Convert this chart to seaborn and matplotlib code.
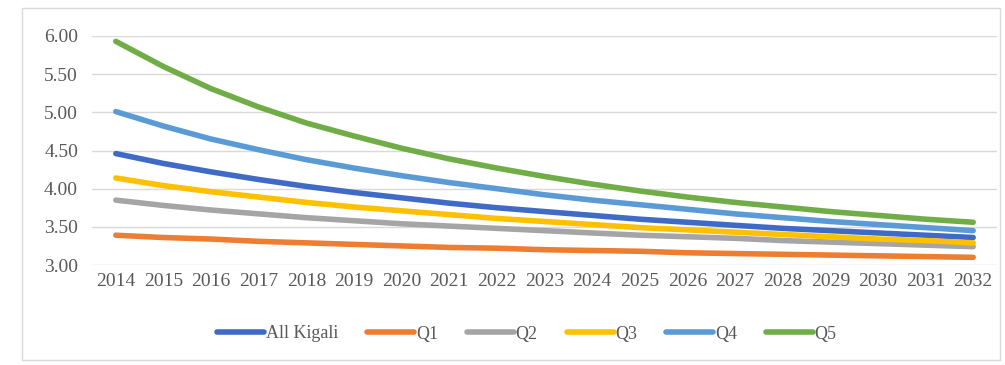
import matplotlib
matplotlib.use("Agg")
import matplotlib.pyplot as plt
from matplotlib.patches import Rectangle
import seaborn as sns
import pandas as pd

years = list(range(2014, 2033))
all_kigali = [4.46, 4.33, 4.22, 4.12, 4.03, 3.95, 3.88, 3.81, 3.75, 3.70, 3.65, 3.60, 3.56, 3.52, 3.48, 3.45, 3.42, 3.39, 3.36]
q1 = [3.39, 3.36, 3.34, 3.31, 3.29, 3.27, 3.25, 3.23, 3.22, 3.20, 3.19, 3.18, 3.16, 3.15, 3.14, 3.13, 3.12, 3.11, 3.10]
q2 = [3.85, 3.78, 3.72, 3.67, 3.62, 3.58, 3.54, 3.51, 3.48, 3.45, 3.42, 3.39, 3.37, 3.35, 3.32, 3.30, 3.28, 3.26, 3.24]
q3 = [4.14, 4.04, 3.96, 3.89, 3.82, 3.76, 3.71, 3.66, 3.61, 3.57, 3.53, 3.49, 3.46, 3.43, 3.40, 3.37, 3.34, 3.32, 3.29]
q4 = [5.01, 4.82, 4.65, 4.51, 4.38, 4.27, 4.17, 4.08, 4.00, 3.92, 3.85, 3.79, 3.73, 3.67, 3.62, 3.57, 3.53, 3.49, 3.45]
q5 = [5.93, 5.60, 5.31, 5.07, 4.86, 4.69, 4.53, 4.39, 4.27, 4.16, 4.06, 3.97, 3.89, 3.82, 3.76, 3.70, 3.65, 3.60, 3.56]
series_names = ["All Kigali", "Q1", "Q2", "Q3", "Q4", "Q5"]
colors = ["#3F6BC6", "#ED7D31", "#A5A5A5", "#FFC000", "#5B9BD5", "#70AD47"]
y_ticks = [3.0, 3.5, 4.0, 4.5, 5.0, 5.5, 6.0]

rows = []
for name, vals in zip(series_names, [all_kigali, q1, q2, q3, q4, q5]):
    for yr, v in zip(years, vals):
        rows.append({"Year": yr, "Value": v, "Series": name})
df = pd.DataFrame(rows)

sns.set_theme(style="white")
plt.rcParams["font.family"] = ["Liberation Serif", "DejaVu Serif"]

fig = plt.figure(figsize=(10.05, 3.65), dpi=100)
W, H = 1005, 365
ax = fig.add_axes([92 / W, 1 - 265 / H, (997 - 92) / W, (265 - 36) / H])

sns.lineplot(data=df, x="Year", y="Value", hue="Series", hue_order=series_names,
             palette=colors, linewidth=4, ax=ax, legend=True, solid_capstyle="round")

ax.set_xlim(2013.5, 2032.5)
ax.set_ylim(3.0, 6.0)
ax.set_yticks(y_ticks)
ax.set_yticklabels([f"{t:.2f}" for t in y_ticks])
ax.set_xticks(years)
ax.set_xticklabels([str(y) for y in years])
ax.grid(axis="y", color="#D9D9D9", linewidth=1)
ax.set_axisbelow(True)
for s in ax.spines.values():
    s.set_visible(False)
ax.set_xlabel("")
ax.set_ylabel("")
ax.tick_params(axis="both", labelsize=14, colors="#595959", length=0, pad=6)
ax.tick_params(axis="y", pad=10)

handles, labels = ax.get_legend_handles_labels()
ax.legend_.remove()
leg = fig.legend(handles, labels, loc="center", bbox_to_anchor=(527 / W, 1 - 334 / H),
                 ncol=6, frameon=False, fontsize=13, handlelength=2.6, handletextpad=0.1,
                 columnspacing=1.6, labelcolor="#595959")
for line in leg.get_lines():
    line.set_linewidth(4)

fig.patches.append(Rectangle((22 / W, 1 - 360 / H), (1000 - 22) / W, (360 - 8) / H,
                             transform=fig.transFigure, fill=False, edgecolor="#D9D9D9",
                             linewidth=1))

fig.savefig("out.png", dpi=100)
